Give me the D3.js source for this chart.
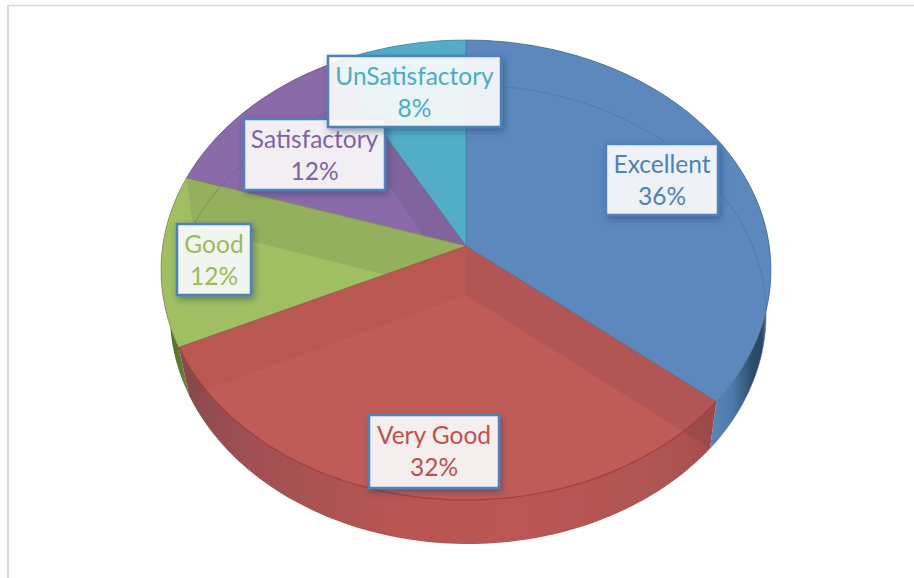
<!DOCTYPE html>
<html>
<head>
<meta charset="utf-8">
<script src="https://cdn.jsdelivr.net/npm/d3@7"></script>
<style>
  html, body { margin: 0; padding: 0; background: #fff; }
  svg { display: block; }
  text { font-family: Lato, "Open Sans", sans-serif; }
</style>
</head>
<body>
<div id="chart"></div>
<script>
const categories = ['Excellent', 'Very Good', 'Good', 'Satisfactory', 'UnSatisfactory'];
const shares = [36, 32, 12, 12, 8];
const faceColors = ['#5b88be', '#c05c58', '#a0be62', '#8a6ba8', '#52acc8'];
const textColors = ['#4f81bd', '#c0504d', '#9bbb59', '#8064a2', '#4bacc6'];

// box of each data label: left, top, right, bottom
const labelBoxes = [
  [606, 144, 718, 215],
  [369, 415, 499, 488],
  [177, 224, 251, 295],
  [244, 119, 385, 190],
  [328, 56, 501, 127],
];

const width = 914, height = 578;

// the pie is a circle seen in perspective: near edge bigger, so the apex sits above the rim's centre
const topPlane = { x: 466, y: 246, a: 303.3, b: 227.5, k: 0.1043 };
const floorPlane = { x: 468, y: 295, a: 297, b: 227.8, k: 0.085 };
const topApex = [466, 246], floorApex = [466, 295];

const project = (plane, angle) => {
  const s = Math.sin(angle), c = -Math.cos(angle);
  const w = 1 - plane.k * c;
  return [plane.x + plane.a * s / w, plane.y + plane.b * c / w];
};
const rim = (plane, a0, a1) => {
  const n = Math.max(2, Math.ceil(Math.abs(a1 - a0) / 0.02));
  return d3.range(n + 1).map(i => project(plane, a0 + (a1 - a0) * i / n));
};
const line = d3.line();

const pie = d3.pie().sort(null).value(d => d)(shares);

const facePath = d => line([topApex].concat(rim(topPlane, d.startAngle, d.endAngle))) + 'Z';
const wallPath = d => line(rim(topPlane, d.startAngle, d.endAngle).concat(rim(floorPlane, d.endAngle, d.startAngle))) + 'Z';

const svg = d3.select('#chart').append('svg').attr('width', width).attr('height', height);
const defs = svg.append('defs');

const shadow = defs.append('filter').attr('id', 'labelShadow')
  .attr('x', '-20%').attr('y', '-20%').attr('width', '140%').attr('height', '140%');
shadow.append('feDropShadow').attr('dx', 2).attr('dy', 3).attr('stdDeviation', 3)
  .attr('flood-color', '#1f3a5c').attr('flood-opacity', 0.5);

const soft = defs.append('filter').attr('id', 'soft');
soft.append('feGaussianBlur').attr('stdDeviation', 0.45);

const addGradient = (id, x1, x2, stops) => {
  const g = defs.append('linearGradient').attr('id', id).attr('gradientUnits', 'userSpaceOnUse')
    .attr('x1', x1).attr('x2', x2).attr('y1', 0).attr('y2', 0);
  stops.forEach(s => g.append('stop').attr('offset', s[0]).attr('stop-color', s[1]));
};
addGradient('wall0', 706, 772, [[0, '#5b88be'], [0.4, '#4d7aac'], [0.7, '#2e4d6e'], [0.84, '#2a4665'], [0.92, '#4a73a2'], [1, '#5b88be']]);
addGradient('wall1', 186, 716, [[0, '#8a4b50'], [0.12, '#a05052'], [0.4, '#b85552'], [0.62, '#bb5655'], [0.9, '#ae5552'], [1, '#a84c4c']]);
addGradient('wall2', 160, 195, [[0, '#4f6628'], [0.6, '#5f7a34'], [1, '#7f9a48']]);
const wallFill = ['url(#wall0)', 'url(#wall1)', 'url(#wall2)', '#7a5c96', '#4496ae'];

// each cut face only shows inside the slice it falls in
pie.forEach((d, i) => {
  const clip = defs.append('clipPath').attr('id', 'slice' + i);
  clip.append('path').attr('d', facePath(d));
  clip.append('path').attr('d', wallPath(d));
});
const cutSlice = [1, 1, 2, 3, 4];

const art = svg.append('g').attr('filter', 'url(#soft)');

// frame of the chart area
art.append('line').attr('x1', 7).attr('x2', width).attr('y1', 5.5).attr('y2', 5.5).attr('stroke', '#d9d9d9').attr('stroke-width', 1.5);
art.append('line').attr('x1', 8).attr('x2', 8).attr('y1', 5).attr('y2', height).attr('stroke', '#d9d9d9').attr('stroke-width', 2);

// outer walls
art.selectAll('.wall').data(pie).enter().append('path').attr('class', 'wall')
  .attr('d', wallPath)
  .attr('fill', (d, i) => wallFill[i]);

// top faces
art.selectAll('.face').data(pie).enter().append('path').attr('class', 'face')
  .attr('d', facePath)
  .attr('fill', (d, i) => faceColors[i]);

// cut faces between slices show through the transparent top
art.selectAll('.cut').data(pie).enter().append('path').attr('class', 'cut')
  .attr('d', d => line([topApex, project(topPlane, d.endAngle), project(floorPlane, d.endAngle), floorApex]) + 'Z')
  .attr('clip-path', (d, i) => `url(#slice${cutSlice[i]})`)
  .attr('fill', (d, i) => (i === 1 ? '#6b3a10' : '#20202e'))
  .attr('fill-opacity', (d, i) => (i === 4 ? 0 : 0.085));

// floor rim, seen through the top faces
art.selectAll('.floorRim').data(pie).enter().append('path').attr('class', 'floorRim')
  .attr('d', d => line(rim(floorPlane, d.startAngle, d.endAngle)))
  .attr('fill', 'none')
  .attr('stroke', (d, i) => d3.color(faceColors[i]).darker(0.7))
  .attr('stroke-width', 0.8)
  .attr('stroke-opacity', (d, i) => (i === 1 || i === 2 ? 0 : 0.6));

// front edge of the red slice
art.selectAll('.frontRim').data([pie[1]]).enter().append('path').attr('class', 'frontRim')
  .attr('d', d => line(rim(topPlane, d.startAngle, d.endAngle)))
  .attr('fill', 'none').attr('stroke', '#a23c3c').attr('stroke-width', 1.2);

// slice borders on the top face
art.selectAll('.edge').data(pie).enter().append('path').attr('class', 'edge')
  .attr('d', d => line([topApex, project(topPlane, d.endAngle)]))
  .attr('fill', 'none')
  .attr('stroke', (d, i) => d3.color(faceColors[i]).darker(0.9))
  .attr('stroke-width', 0.9).attr('stroke-opacity', 0.8);

// thin outline on the far and side rim
art.selectAll('.outline').data(pie).enter().append('path').attr('class', 'outline')
  .attr('d', d => line(rim(topPlane, d.startAngle, d.endAngle)))
  .attr('fill', 'none')
  .attr('stroke', (d, i) => d3.color(faceColors[i]).darker(1))
  .attr('stroke-width', 0.8)
  .attr('stroke-opacity', (d, i) => (i === 1 ? 0 : 0.7));

// data labels: drawn in slice order, UnSatisfactory last so it sits on top
const labels = svg.selectAll('.label').data(pie).enter().append('g').attr('class', 'label');
labels.append('rect')
  .attr('x', (d, i) => labelBoxes[i][0])
  .attr('y', (d, i) => labelBoxes[i][1])
  .attr('width', (d, i) => labelBoxes[i][2] - labelBoxes[i][0])
  .attr('height', (d, i) => labelBoxes[i][3] - labelBoxes[i][1])
  .attr('fill', '#fff').attr('fill-opacity', 0.88)
  .attr('stroke', '#4f81bd').attr('stroke-width', 2.5)
  .attr('filter', 'url(#labelShadow)');
labels.append('text')
  .attr('x', (d, i) => (labelBoxes[i][0] + labelBoxes[i][2]) / 2)
  .attr('y', (d, i) => labelBoxes[i][1] + 29)
  .attr('text-anchor', 'middle').attr('font-size', 24.5)
  .attr('fill', (d, i) => textColors[i])
  .text((d, i) => categories[i]);
labels.append('text')
  .attr('x', (d, i) => (labelBoxes[i][0] + labelBoxes[i][2]) / 2)
  .attr('y', (d, i) => labelBoxes[i][1] + 61)
  .attr('text-anchor', 'middle').attr('font-size', 24.5)
  .attr('fill', (d, i) => textColors[i])
  .text(d => d.value + '%');
</script>
</body>
</html>
